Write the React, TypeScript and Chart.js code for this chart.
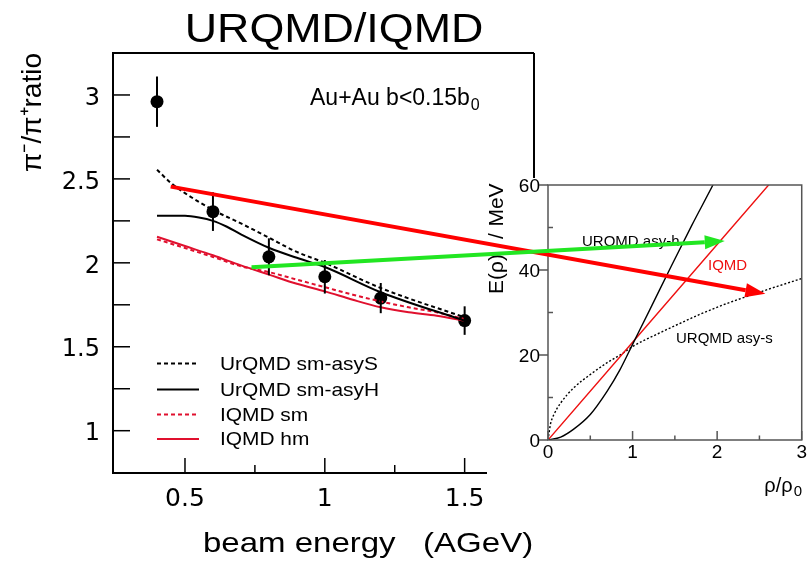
import React, { useEffect, useRef } from "react";
import { Chart, registerables } from "chart.js";

Chart.register(...registerables);

// ---------- main panel data (pi-/pi+ ratio vs beam energy) ----------
const energyPoints = [0.4, 0.6, 0.8, 1.0, 1.2, 1.5];
const ratioPoints = [2.96, 2.305, 2.036, 1.917, 1.79, 1.656];
const ratioErrors = [0.15, 0.115, 0.11, 0.1, 0.09, 0.085];

const asySEnergy = [0.4, 0.45, 0.5, 0.6, 0.7, 0.8, 0.9, 1.0, 1.2, 1.5];
const asySRatio = [2.555, 2.475, 2.415, 2.315, 2.235, 2.15, 2.065, 2.0, 1.85, 1.675];

const asyHEnergy = [0.4, 0.5, 0.55, 0.6, 0.65, 0.7, 0.8, 0.9, 1.0, 1.2, 1.5];
const asyHRatio = [2.28, 2.28, 2.27, 2.25, 2.215, 2.17, 2.09, 2.03, 1.975, 1.825, 1.655];

const iqmdEnergy = [0.4, 0.5, 0.6, 0.7, 0.8, 0.9, 1.0, 1.1, 1.2, 1.3, 1.4, 1.5];
const iqmdSmRatio = [2.14, 2.088, 2.035, 1.98, 1.945, 1.9, 1.855, 1.81, 1.77, 1.735, 1.705, 1.665];
const iqmdHmRatio = [2.155, 2.1, 2.045, 1.985, 1.93, 1.875, 1.83, 1.78, 1.735, 1.705, 1.685, 1.655];

const xTickValues = [0.5, 0.75, 1, 1.25, 1.5];
const xTickLabeled = [0.5, 1, 1.5];
const yTickValues = [1, 1.25, 1.5, 1.75, 2, 2.25, 2.5, 2.75, 3];
const yTickLabeled = [1, 1.5, 2, 2.5, 3];

// ---------- inset data (symmetry energy vs density) ----------
const rhoHard = [0, 0.15, 0.3, 0.5, 0.7, 0.85, 1.0, 1.2, 1.46, 1.7, 1.95, 2.1];
const esymHard = [0, 0.7, 2.5, 6.0, 11.5, 16.5, 22.5, 30.5, 41, 50.5, 60, 66];
const rhoIqmd = [0, 1, 2, 3];
const esymIqmd = [0, 23, 46, 69];
const rhoSoft = [0, 0.03, 0.07, 0.15, 0.3, 0.5, 0.7, 0.9, 1.0, 1.3, 1.6, 1.8, 2.1, 2.55, 3.0];
const esymSoft = [0, 3.8, 6.0, 8.7, 12.2, 15.4, 18.2, 20.6, 22.0, 25.0, 27.8, 29.6, 32, 35.1, 38];

const insetXTicks = [0, 0.5, 1, 1.5, 2, 2.5, 3];
const insetXLabeled = [0, 1, 2, 3];
const insetYTicks = [0, 10, 20, 30, 40, 50, 60];
const insetYLabeled = [0, 20, 40, 60];

// arrows: start in main panel data coords, end in inset data coords
const redArrowFrom = [0.449, 2.454];
const redArrowTo = [2.57, 34.4];
const greenArrowFrom = [0.738, 1.974];
const greenArrowTo = [2.09, 46.8];

const RED = "#e0102e";
const INSET_RED = "#ee1111";
const FONT = "'Liberation Sans', Arial, Helvetica, sans-serif";

const zip = (xs: number[], ys: number[]) => xs.map((x, i) => ({ x, y: ys[i] }));

function drawText(
  ctx: CanvasRenderingContext2D,
  text: string,
  x: number,
  y: number,
  size: number,
  o: { sx?: number; align?: CanvasTextAlign; baseline?: CanvasTextBaseline; color?: string; rotate?: number } = {}
) {
  ctx.save();
  ctx.translate(x, y);
  if (o.rotate) ctx.rotate(o.rotate);
  ctx.scale(o.sx ?? 1, 1);
  ctx.font = `${size}px ${FONT}`;
  ctx.textAlign = o.align ?? "left";
  ctx.textBaseline = o.baseline ?? "alphabetic";
  ctx.fillStyle = o.color ?? "#000";
  ctx.fillText(text, 0, 0);
  ctx.restore();
}

function textWidth(ctx: CanvasRenderingContext2D, text: string, size: number) {
  ctx.save();
  ctx.font = `${size}px ${FONT}`;
  const w = ctx.measureText(text).width;
  ctx.restore();
  return w;
}

function line(ctx: CanvasRenderingContext2D, x1: number, y1: number, x2: number, y2: number) {
  ctx.beginPath();
  ctx.moveTo(x1, y1);
  ctx.lineTo(x2, y2);
  ctx.stroke();
}

function arrow(ctx: CanvasRenderingContext2D, x1: number, y1: number, x2: number, y2: number, color: string) {
  const ang = Math.atan2(y2 - y1, x2 - x1);
  const headLen = 20;
  const headHalf = 7;
  const bx = x2 - headLen * Math.cos(ang);
  const by = y2 - headLen * Math.sin(ang);
  ctx.save();
  ctx.strokeStyle = color;
  ctx.fillStyle = color;
  ctx.lineWidth = 4;
  ctx.beginPath();
  ctx.moveTo(x1, y1);
  ctx.lineTo(bx, by);
  ctx.stroke();
  ctx.beginPath();
  ctx.moveTo(x2, y2);
  ctx.lineTo(bx + headHalf * Math.sin(ang), by - headHalf * Math.cos(ang));
  ctx.lineTo(bx - headHalf * Math.sin(ang), by + headHalf * Math.cos(ang));
  ctx.closePath();
  ctx.fill();
  ctx.restore();
}

const mainDecor = {
  id: "mainDecor",
  beforeDraw(chart: any) {
    const ctx = chart.ctx;
    ctx.save();
    ctx.fillStyle = "#fff";
    ctx.fillRect(0, 0, chart.width, chart.height);
    ctx.restore();
  },
  afterDatasetsDraw(chart: any) {
    const ctx = chart.ctx;
    const xs = chart.scales.x;
    const ys = chart.scales.y;
    ctx.save();
    ctx.strokeStyle = "#000";
    ctx.lineWidth = 2;
    energyPoints.forEach((e, i) => {
      const px = xs.getPixelForValue(e);
      line(ctx, px, ys.getPixelForValue(ratioPoints[i] + ratioErrors[i]), px, ys.getPixelForValue(ratioPoints[i] - ratioErrors[i]));
    });
    ctx.restore();
  },
  afterDraw(chart: any) {
    const ctx = chart.ctx;
    const { left, top, right, bottom } = chart.chartArea;
    const xs = chart.scales.x;
    const ys = chart.scales.y;
    ctx.save();
    ctx.strokeStyle = "#000";
    ctx.lineWidth = 2;
    // frame (partly hidden by the inset box)
    line(ctx, left, top - 1, left, bottom + 1);
    line(ctx, left, bottom, 487, bottom);
    line(ctx, left, top, right, top);
    line(ctx, right, top, right, 178);
    // inward ticks
    ctx.lineWidth = 1.5;
    yTickValues.forEach((v) => {
      const py = ys.getPixelForValue(v);
      line(ctx, left, py, left + 17, py);
    });
    xTickValues.forEach((v) => {
      const px = xs.getPixelForValue(v);
      const len = xTickLabeled.includes(v) ? 15 : 8;
      line(ctx, px, bottom, px, bottom - len);
    });
    ctx.restore();

    // title
    drawText(ctx, "URQMD/IQMD", 334, 42, 40, { sx: 1.12, align: "center" });
    // reaction label
    const lab = "Au+Au b<0.15b";
    drawText(ctx, lab, 310, 105, 23);
    drawText(ctx, "0", 310 + textWidth(ctx, lab, 23) + 1, 110, 16);
    // x title
    drawText(ctx, "beam energy   (AGeV)", 203, 552, 27.5, { sx: 1.2 });

    // legend
    const rows = [363.5, 389.5, 414.5, 439];
    chart.data.datasets.slice(0, 4).forEach((ds: any, i: number) => {
      const y = rows[i];
      ctx.save();
      ctx.strokeStyle = ds.borderColor;
      ctx.lineWidth = 2;
      ctx.setLineDash(ds.borderDash || []);
      line(ctx, 157, y, 199, y);
      ctx.restore();
      drawText(ctx, ds.label, 220, y + 1, 19, { sx: 1.1, baseline: "middle" });
    });
  },
};

function makeInsetDecor(main: Chart) {
  return {
    id: "insetDecor",
    afterDraw(chart: any) {
      const ctx = chart.ctx;
      const { left, top, right, bottom } = chart.chartArea;
      const xs = chart.scales.x;
      const ys = chart.scales.y;
      ctx.save();
      ctx.strokeStyle = "#555";
      ctx.lineWidth = 1.5;
      ctx.strokeRect(left, top, right - left, bottom - top);
      insetYTicks.forEach((v) => {
        const py = ys.getPixelForValue(v);
        if (insetYLabeled.includes(v)) line(ctx, left - 9, py, left, py);
        else line(ctx, left, py, left + 5, py);
      });
      insetXTicks.forEach((v) => {
        const px = xs.getPixelForValue(v);
        const len = insetXLabeled.includes(v) ? 9 : 4.5;
        line(ctx, px, bottom, px, bottom - len);
      });
      ctx.restore();

      drawText(ctx, "URQMD asy-h", 582, 246, 15);
      drawText(ctx, "IQMD", 708, 270, 15, { color: INSET_RED });
      drawText(ctx, "URQMD asy-s", 676, 343, 15);

      // axis titles
      const rot = { align: "center" as CanvasTextAlign, baseline: "middle" as CanvasTextBaseline, rotate: -Math.PI / 2 };
      drawText(ctx, "MeV", 497, 205, 21, rot);
      drawText(ctx, "/", 497, 236, 21, rot);
      drawText(ctx, "E(\u03c1)", 497, 274, 21, rot);
      const rl = "\u03c1/\u03c1";
      const w0 = textWidth(ctx, "0", 15);
      drawText(ctx, rl, 802 - w0 - 1, 492, 20, { align: "right" });
      drawText(ctx, "0", 802, 496, 15, { align: "right" });

      // arrows from main panel into inset
      const mx = main.scales.x;
      const my = main.scales.y;
      arrow(ctx, mx.getPixelForValue(redArrowFrom[0]), my.getPixelForValue(redArrowFrom[1]),
        xs.getPixelForValue(redArrowTo[0]), ys.getPixelForValue(redArrowTo[1]), "#ff0000");
      arrow(ctx, mx.getPixelForValue(greenArrowFrom[0]), my.getPixelForValue(greenArrowFrom[1]),
        xs.getPixelForValue(greenArrowTo[0]), ys.getPixelForValue(greenArrowTo[1]), "#22e622");
    },
  };
}

export default function App() {
  const mainRef = useRef<HTMLCanvasElement>(null);
  const insetRef = useRef<HTMLCanvasElement>(null);

  useEffect(() => {
    const main = new Chart(mainRef.current as HTMLCanvasElement, {
      type: "line",
      data: {
        datasets: [
          { label: "UrQMD sm-asyS", data: zip(asySEnergy, asySRatio), borderColor: "#000", borderWidth: 2, borderDash: [4, 3], pointRadius: 0, cubicInterpolationMode: "monotone", fill: false },
          { label: "UrQMD sm-asyH", data: zip(asyHEnergy, asyHRatio), borderColor: "#000", borderWidth: 2, pointRadius: 0, cubicInterpolationMode: "monotone", fill: false },
          { label: "IQMD sm", data: zip(iqmdEnergy, iqmdSmRatio), borderColor: RED, borderWidth: 2, borderDash: [4, 3], pointRadius: 0, cubicInterpolationMode: "monotone", fill: false },
          { label: "IQMD hm", data: zip(iqmdEnergy, iqmdHmRatio), borderColor: RED, borderWidth: 2, pointRadius: 0, cubicInterpolationMode: "monotone", fill: false },
          { label: "data", data: zip(energyPoints, ratioPoints), showLine: false, pointRadius: 6.5, pointHoverRadius: 6.5, backgroundColor: "#000", borderColor: "#000", borderWidth: 0 },
        ] as any,
      },
      options: {
        responsive: false,
        animation: false,
        events: [],
        layout: { padding: { left: 0, top: 53, right: 274, bottom: 0 } },
        plugins: { legend: { display: false }, tooltip: { enabled: false } },
        scales: {
          x: {
            type: "linear",
            min: 0.2426,
            max: 1.748,
            grid: { display: false, drawTicks: false },
            border: { display: false },
            afterBuildTicks: (s: any) => { s.ticks = xTickValues.map((v) => ({ value: v })); },
            afterFit: (s: any) => { s.height = 91; },
            ticks: {
              autoSkip: false,
              maxRotation: 0,
              padding: 11,
              color: "#000",
              font: { family: "'DejaVu Sans'", size: 25 },
              callback: (v: any) => (xTickLabeled.includes(Number(v)) ? String(v) : ""),
            },
          },
          y: {
            type: "linear",
            min: 0.748,
            max: 3.25,
            grid: { display: false, drawTicks: false },
            border: { display: false },
            afterBuildTicks: (s: any) => { s.ticks = yTickValues.map((v) => ({ value: v })); },
            afterFit: (s: any) => { s.width = 113; },
            title: {
              display: true,
              text: "\u03c0\u207b/\u03c0\u207aratio",
              align: "end",
              color: "#000",
              font: { family: FONT, size: 28 },
              padding: { top: 16, bottom: 0 },
            },
            ticks: {
              autoSkip: false,
              padding: 13,
              labelOffset: 3.5,
              color: "#000",
              font: { family: "'DejaVu Sans'", size: 24 },
              callback: (v: any) => (yTickLabeled.includes(Number(v)) ? String(v) : ""),
            },
          },
        },
      } as any,
      plugins: [mainDecor],
    });

    const inset = new Chart(insetRef.current as HTMLCanvasElement, {
      type: "line",
      data: {
        datasets: [
          { label: "URQMD asy-h", data: zip(rhoHard, esymHard), borderColor: "#000", borderWidth: 1.4, pointRadius: 0, cubicInterpolationMode: "monotone", fill: false },
          { label: "IQMD", data: zip(rhoIqmd, esymIqmd), borderColor: INSET_RED, borderWidth: 1.4, pointRadius: 0, fill: false },
          { label: "URQMD asy-s", data: zip(rhoSoft, esymSoft), borderColor: "#000", borderWidth: 1.4, borderDash: [2, 2], pointRadius: 0, cubicInterpolationMode: "monotone", fill: false },
        ] as any,
      },
      options: {
        responsive: false,
        animation: false,
        events: [],
        layout: { padding: { left: 487, top: 185, right: 5, bottom: 0 } },
        plugins: { legend: { display: false }, tooltip: { enabled: false } },
        scales: {
          x: {
            type: "linear",
            min: 0,
            max: 3,
            grid: { display: false, drawTicks: false },
            border: { display: false },
            afterBuildTicks: (s: any) => { s.ticks = insetXTicks.map((v) => ({ value: v })); },
            afterFit: (s: any) => { s.height = 124; },
            ticks: {
              autoSkip: false,
              maxRotation: 0,
              padding: 1,
              color: "#000",
              font: { family: FONT, size: 19 },
              callback: (v: any) => (insetXLabeled.includes(Number(v)) ? String(v) : ""),
            },
          },
          y: {
            type: "linear",
            min: 0,
            max: 60,
            grid: { display: false, drawTicks: false },
            border: { display: false },
            afterBuildTicks: (s: any) => { s.ticks = insetYTicks.map((v) => ({ value: v })); },
            afterFit: (s: any) => { s.width = 61; },
            ticks: {
              autoSkip: false,
              padding: 8,
              labelOffset: 2,
              color: "#000",
              font: { family: FONT, size: 19 },
              callback: (v: any) => (insetYLabeled.includes(Number(v)) ? String(v) : ""),
            },
          },
        },
      } as any,
      plugins: [makeInsetDecor(main)],
    });

    return () => {
      inset.destroy();
      main.destroy();
    };
  }, []);

  return (
    <div style={{ position: "absolute", left: 0, top: 0, width: 808, height: 564, background: "#fff" }}>
      <canvas ref={mainRef} width={808} height={564} style={{ position: "absolute", left: 0, top: 0 }} />
      <canvas ref={insetRef} width={808} height={564} style={{ position: "absolute", left: 0, top: 0 }} />
    </div>
  );
}
